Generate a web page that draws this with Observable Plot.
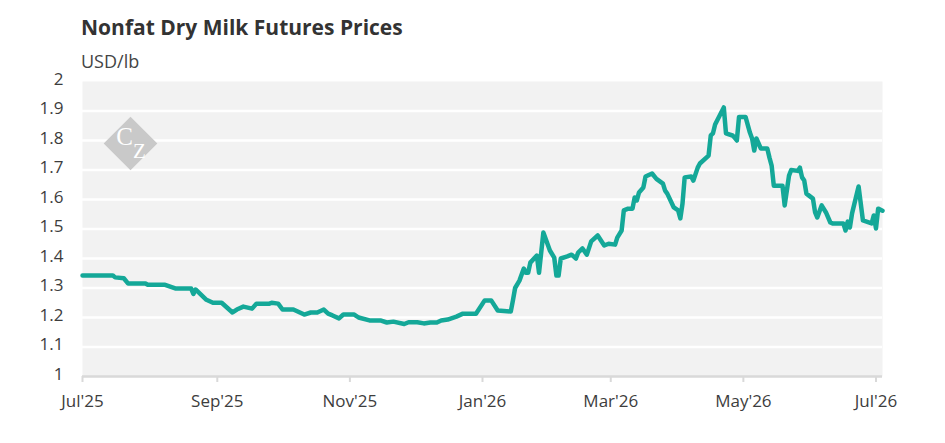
<!DOCTYPE html>
<html>
<head>
<meta charset="utf-8">
<script src="https://cdn.jsdelivr.net/npm/d3@7"></script>
<script src="https://cdn.jsdelivr.net/npm/@observablehq/plot@0.6"></script>
<style>
  html, body { margin: 0; padding: 0; background: #fff; }
  #wrap { width: 945px; height: 443px; overflow: hidden; font-family: "Open Sans", sans-serif; }
  #title { margin: 0 0 0 81px; padding-top: 15px; font-size: 21px; line-height: 24px; font-weight: 700; color: #333; }
  #sub { margin: 11px 0 0 81px; font-size: 18px; line-height: 22px; color: #444; }
  svg { display: block; }
</style>
</head>
<body>
<div id="wrap">
  <div id="title">Nonfat Dry Milk Futures Prices</div>
  <div id="sub">USD/lb</div>
  <div id="chart"></div>
</div>
<script>
const dates = [
  "2025-07-01","2025-07-15","2025-07-16","2025-07-20","2025-07-22","2025-07-30","2025-07-31",
  "2025-08-08","2025-08-13","2025-08-20","2025-08-21","2025-08-22","2025-08-27","2025-08-30",
  "2025-09-03","2025-09-08","2025-09-10","2025-09-13","2025-09-17","2025-09-19","2025-09-25",
  "2025-09-26","2025-09-29","2025-10-01","2025-10-06","2025-10-09","2025-10-11","2025-10-14",
  "2025-10-17","2025-10-20","2025-10-22","2025-10-24","2025-10-27","2025-10-29","2025-11-03",
  "2025-11-05","2025-11-10","2025-11-15","2025-11-18","2025-11-21","2025-11-26","2025-11-28",
  "2025-12-02","2025-12-05","2025-12-08","2025-12-11","2025-12-13","2025-12-16","2025-12-20",
  "2025-12-23","2025-12-29","2026-01-02","2026-01-05","2026-01-08","2026-01-14","2026-01-15",
  "2026-01-16","2026-01-18","2026-01-20","2026-01-21","2026-01-22","2026-01-23","2026-01-26",
  "2026-01-27","2026-01-29","2026-02-01","2026-02-03","2026-02-04","2026-02-05","2026-02-06",
  "2026-02-09","2026-02-11","2026-02-13","2026-02-14","2026-02-16","2026-02-18","2026-02-20",
  "2026-02-23","2026-02-26","2026-02-28","2026-03-03","2026-03-04","2026-03-06","2026-03-07",
  "2026-03-09","2026-03-11","2026-03-12","2026-03-13","2026-03-14","2026-03-16","2026-03-17",
  "2026-03-20","2026-03-22","2026-03-25","2026-03-26","2026-03-27","2026-03-30","2026-04-01",
  "2026-04-02","2026-04-03","2026-04-04","2026-04-07","2026-04-08","2026-04-10","2026-04-11",
  "2026-04-15","2026-04-16","2026-04-17","2026-04-18","2026-04-22","2026-04-23","2026-04-26",
  "2026-04-27","2026-04-28","2026-04-29","2026-05-02","2026-05-04","2026-05-05","2026-05-06",
  "2026-05-07","2026-05-09","2026-05-12","2026-05-13","2026-05-14","2026-05-15","2026-05-19",
  "2026-05-20","2026-05-22","2026-05-23","2026-05-26","2026-05-27","2026-05-28","2026-05-29",
  "2026-05-30","2026-06-02","2026-06-03","2026-06-04","2026-06-06","2026-06-08","2026-06-10",
  "2026-06-11","2026-06-16","2026-06-17","2026-06-18","2026-06-19","2026-06-20","2026-06-23",
  "2026-06-25","2026-06-29","2026-06-30","2026-07-01","2026-07-02","2026-07-04"
];
const prices = [
  1.342,1.342,1.336,1.333,1.315,1.315,1.311,
  1.311,1.298,1.298,1.280,1.295,1.260,1.250,
  1.250,1.217,1.227,1.237,1.230,1.247,1.247,
  1.250,1.247,1.227,1.227,1.217,1.210,1.217,
  1.217,1.227,1.213,1.207,1.197,1.210,1.210,
  1.200,1.190,1.190,1.183,1.186,1.178,1.184,
  1.184,1.180,1.183,1.183,1.190,1.193,1.203,
  1.213,1.213,1.258,1.258,1.224,1.220,1.258,
  1.300,1.325,1.366,1.352,1.352,1.386,1.410,
  1.352,1.488,1.427,1.403,1.342,1.342,1.400,
  1.407,1.413,1.400,1.420,1.434,1.413,1.458,
  1.478,1.444,1.450,1.447,1.471,1.495,1.563,
  1.569,1.569,1.607,1.597,1.624,1.641,1.678,
  1.688,1.670,1.654,1.630,1.620,1.573,1.563,
  1.536,1.586,1.675,1.678,1.664,1.708,1.722,
  1.749,1.817,1.824,1.854,1.912,1.824,1.817,
  1.810,1.800,1.880,1.880,1.827,1.807,1.766,
  1.807,1.773,1.773,1.742,1.715,1.647,1.647,
  1.580,1.681,1.700,1.697,1.708,1.675,1.664,
  1.620,1.603,1.556,1.539,1.580,1.556,1.522,
  1.519,1.519,1.495,1.525,1.505,1.553,1.644,
  1.529,1.519,1.546,1.502,1.569,1.562
];
const yTicks = [1, 1.1, 1.2, 1.3, 1.4, 1.5, 1.6, 1.7, 1.8, 1.9, 2];
const xTicks = ["2025-07-01","2025-09-01","2025-11-01","2026-01-01","2026-03-01","2026-05-01","2026-07-01"];
const xDomain = ["2025-07-01","2026-07-04"];

const data = dates.map((d, i) => ({date: new Date(d + "T00:00:00Z"), price: prices[i]}));
const fmt = d3.utcFormat("%b'%y");

const chart = Plot.plot({
  width: 945,
  height: 371,
  marginLeft: 82,
  marginRight: 63,
  marginTop: 9,
  marginBottom: 67,
  style: {fontFamily: "Open Sans", fontSize: "17px", color: "#3d3d3d", background: "#fff", overflow: "visible"},
  x: {type: "utc", domain: xDomain.map(d => new Date(d + "T00:00:00Z")), label: null},
  y: {domain: [1, 2], label: null},
  marks: [
    Plot.frame({fill: "#f2f2f2", stroke: null}),
    Plot.gridY(yTicks.filter(t => t > 1 && t < 2), {stroke: "#fff", strokeOpacity: 1, strokeWidth: 2.5}),
    Plot.dot([0], {frameAnchor: "top-left", dx: 48, dy: 62, symbol: "square", r: 21.4, rotate: 45, fill: "#c9c9c9"}),
    Plot.text(["C"], {frameAnchor: "top-left", dx: 42, dy: 55, textAnchor: "middle", lineAnchor: "middle", fill: "#fff", fontSize: 25, fontFamily: "Liberation Serif"}),
    Plot.text(["Z"], {frameAnchor: "top-left", dx: 57, dy: 70, textAnchor: "middle", lineAnchor: "middle", fill: "#fff", fontSize: 21, fontFamily: "Liberation Serif"}),
    Plot.ruleY([1], {stroke: "#d9d9d9", strokeWidth: 2.5}),
    Plot.axisY({ticks: yTicks, tickSize: 0, tickPadding: 19, dy: -2, tickFormat: d => d3.format("")(d), label: null}),
    Plot.axisX({ticks: xTicks.map(d => new Date(d + "T00:00:00Z")), tickSize: 6, tickPadding: 12, tickFormat: fmt, stroke: "#d9d9d9", strokeWidth: 2, label: null}),
    Plot.line(data, {x: "date", y: "price", stroke: "#14a898", strokeWidth: 4.5, strokeLinejoin: "round", strokeLinecap: "round"})
  ]
});
document.getElementById("chart").appendChild(chart);
</script>
</body>
</html>
